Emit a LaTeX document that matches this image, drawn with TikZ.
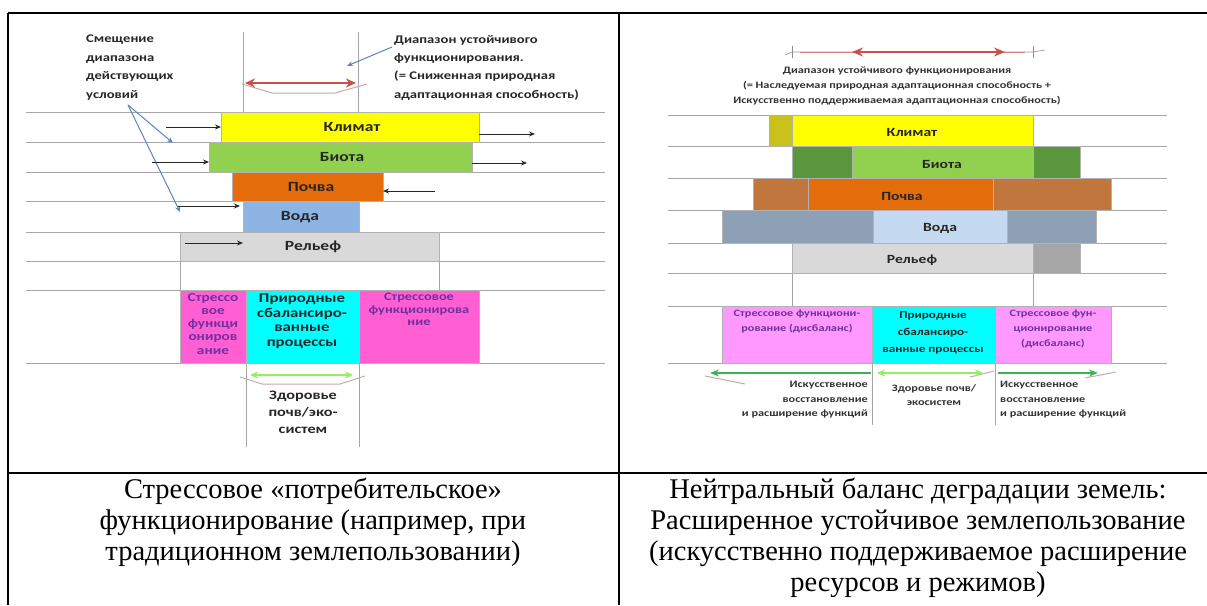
\documentclass[tikz,border=0pt]{standalone}
\usepackage{fontspec}
\setmainfont{Liberation Serif}
\newfontfamily\lab[FakeStretch=1.25]{Carlito}
\usetikzlibrary{arrows.meta}
\definecolor{cYel}{HTML}{FFFF00}
\definecolor{cGrn}{HTML}{92D050}
\definecolor{cOra}{HTML}{E46C0A}
\definecolor{cBlu}{HTML}{8EB4E3}
\definecolor{cGry}{HTML}{D9D9D9}
\definecolor{cMag}{HTML}{FF5FD2}
\definecolor{cCya}{HTML}{00FFFF}
\definecolor{cDYel}{HTML}{C9C21A}
\definecolor{cDGrn}{HTML}{5A963C}
\definecolor{cBrn}{HTML}{C0763C}
\definecolor{cGBlu}{HTML}{8EA0B6}
\definecolor{cLBlu}{HTML}{C5D9F1}
\definecolor{cDGry}{HTML}{A6A6A6}
\definecolor{cLMag}{HTML}{FF99FF}
\definecolor{cPur}{HTML}{7030A0}
\definecolor{cRed}{HTML}{C8504D}
\definecolor{cCall}{HTML}{5B84C4}
\definecolor{cLGrnA}{HTML}{90F060}
\definecolor{cDGrnA}{HTML}{3CB455}
\definecolor{cShad}{HTML}{C8A8A8}
\newcommand\mybox[6]{%
  \node[boxst,#6,minimum width={(#4-#2)*1pt},minimum height={(#5-#3)*1pt}] (#1) at ({(#2+#4)/2},{(#3+#5)/2}) {};}
\tikzset{
  boxst/.style={draw=black!30,line width=0.4pt,inner sep=0pt,outer sep=0pt,rectangle},
  rowline/.style={draw=black!35,line width=1pt},
  vline/.style={draw=black!35,line width=1pt},
  tabline/.style={draw=black,line width=1.5pt},
  lbl/.style={font=\lab\bfseries\fontsize{14}{15}\selectfont,text=black!85,inner sep=0pt},
  slbl/.style={font=\lab\bfseries\fontsize{12.5}{14}\selectfont,text=black!85,inner sep=0pt},
  note/.style={font=\lab\bfseries\fontsize{11.7}{18.4}\selectfont,text=black!85,inner sep=0pt,align=left},
  snote/.style={font=\lab\bfseries\fontsize{9.8}{14.7}\selectfont,text=black!80,inner sep=0pt,align=center},
  blk/.style={draw=black!85,line width=1pt,-{Stealth[length=6pt,width=5pt]}},
  call/.style={draw=cCall,line width=1pt,-{Stealth[length=6pt,width=5pt]}},
  shad/.style={draw=cShad,line width=1pt},
  captxt/.style={font=\fontsize{28.5}{31}\selectfont,align=center,inner sep=0pt}
}
\begin{document}
\begin{tikzpicture}[x=1pt,y=-1pt]
\useasboundingbox (0,0) rectangle (1207,605);
% ---------- table ----------
\draw[tabline] (8,13) -- (1207,13);
\draw[tabline] (8,473) -- (1207,473);
\draw[tabline] (8,13) -- (8,605);
\draw[tabline] (619,13) -- (619,605);
% ================= LEFT PANEL =================
\foreach \yy in {112,142,172,201,232,261,290,363}{\draw[rowline] (26,\yy) -- (605,\yy);}
\draw[vline] (243,32) -- (243,112);
\draw[vline] (358,32) -- (358,112);
\draw[vline] (180,261) -- (180,290);
\draw[vline] (439,232) -- (439,290);
\draw[vline] (246,363) -- (246,447);
\draw[vline] (359,363) -- (359,447);
\mybox{Lk}{221}{112}{479}{142}{fill=cYel}
\mybox{Lb}{209}{142}{472}{172}{fill=cGrn}
\mybox{Lp}{232}{172}{383}{201}{fill=cOra}
\mybox{Lv}{243}{201}{359}{232}{fill=cBlu}
\mybox{Lr}{180}{232}{439}{261}{fill=cGry}
\mybox{Ls1}{180}{290}{246}{363}{fill=cMag}
\mybox{Ln}{246}{290}{359}{363}{fill=cCya}
\mybox{Ls2}{359}{290}{479}{363}{fill=cMag}
\node[lbl] (tLk) at (352,127) {Климат};
\node[lbl] (tLb) at (342,157) {Биота};
\node[lbl] (tLp) at (311,187) {Почва};
\node[lbl] (tLv) at (300,217) {Вода};
\node[lbl] (tLr) at (313,247) {Рельеф};
\node[lbl,font=\lab\bfseries\fontsize{12.2}{13.2}\selectfont,text=cPur,align=center,anchor=north] (tLs1) at (213,293) {Стрессо\\вое\\функци\\ониров\\ание};
\node[lbl,font=\lab\bfseries\fontsize{13.4}{14.5}\selectfont,align=center,anchor=north] (tLn) at (302,294) {Природные\\сбалансиро-\\ванные\\процессы};
\node[lbl,font=\lab\bfseries\fontsize{11.5}{12.5}\selectfont,text=cPur,align=center,anchor=north] (tLs2) at (419,293) {Стрессовое\\функционирова\\ние};
\node[lbl,font=\lab\bfseries\fontsize{13}{17}\selectfont,align=center,anchor=north] (tLz) at (303,391) {Здоровье\\почв/эко-\\систем};
% notes
\node[note,anchor=north west] (shift) at (86,35) {Смещение\\диапазона\\действующих\\условий};
\node[note,anchor=north west] (range) at (394,35) {Диапазон устойчивого\\функционирования.\\(= Сниженная природная\\адаптационная способность)};
\coordinate (sh0) at (128,105);
\coordinate (sh1) at (173,143);
\coordinate (sh2) at (180,212);
\draw[call] (sh0) -- (sh1);
\draw[call] (sh0) -- (sh2);
\coordinate (rg0) at (392,47);
\coordinate (rg1) at (347,66);
\draw[call] (rg0) -- (rg1);
% black shift arrows
\coordinate (a1) at (166,127); \draw[blk] (a1) -- (Lk.west |- a1);
\coordinate (a2) at (535,134); \draw[blk] (Lk.east |- a2) -- (a2);
\coordinate (a3) at (152,162); \draw[blk] (a3) -- (Lb.west |- a3);
\coordinate (a4) at (527,163); \draw[blk] (Lb.east |- a4) -- (a4);
\coordinate (a5) at (435,191); \draw[blk] (a5) -- (Lp.east |- a5);
\coordinate (a6) at (178,206); \draw[blk] (a6) -- (240,206);
\coordinate (a7) at (185,243); \draw[blk] (a7) -- (243,243);
% red range arrow
\draw[shad] (242,84) -- (272,93) -- (335,93) -- (367,84);
\coordinate (rL) at (245,83); \coordinate (rR) at (356,83);
\draw[draw=cRed,line width=2.6pt,{Stealth[length=10pt,width=9pt]}-{Stealth[length=10pt,width=9pt]}] (rL) -- (rR);
% green health arrow
\draw[shad] (240,377) -- (262,384) -- (340,384) -- (365,376);
\coordinate (gL) at (250,375); \coordinate (gR) at (353,375);
\draw[draw=cLGrnA,line width=2.2pt,{Stealth[length=8pt,width=7pt]}-{Stealth[length=8pt,width=7pt]}] (gL) -- (gR);
% ================= RIGHT PANEL =================
\foreach \yy in {115,146,178,210,243,273,306,363}{\draw[rowline] (668,\yy) -- (1167,\yy);}
\draw[vline] (792,273) -- (792,306);
\draw[vline] (1033,273) -- (1033,306);
\draw[vline] (872,363) -- (872,425);
\draw[vline] (995,363) -- (995,425);
\mybox{Rk0}{769}{115}{792}{146}{fill=cDYel}
\mybox{Rk}{792}{115}{1033}{146}{fill=cYel}
\mybox{Rb0}{792}{146}{852}{178}{fill=cDGrn}
\mybox{Rb}{852}{146}{1033}{178}{fill=cGrn}
\mybox{Rb1}{1033}{146}{1080}{178}{fill=cDGrn}
\mybox{Rp0}{753}{178}{808}{210}{fill=cBrn}
\mybox{Rp}{808}{178}{993}{210}{fill=cOra}
\mybox{Rp1}{993}{178}{1111}{210}{fill=cBrn}
\mybox{Rv0}{722}{210}{873}{243}{fill=cGBlu}
\mybox{Rv}{873}{210}{1007}{243}{fill=cLBlu}
\mybox{Rv1}{1007}{210}{1096}{243}{fill=cGBlu}
\mybox{Rr}{792}{243}{1033}{273}{fill=cGry}
\mybox{Rr1}{1033}{243}{1080}{273}{fill=cDGry}
\mybox{Rs1}{722}{306}{872}{363}{fill=cLMag}
\mybox{Rn}{872}{306}{995}{363}{fill=cCya}
\mybox{Rs2}{995}{306}{1111}{363}{fill=cLMag}
\node[slbl] (tRk) at (912,132) {Климат};
\node[slbl] (tRb) at (942,164) {Биота};
\node[slbl] (tRp) at (902,196) {Почва};
\node[slbl] (tRv) at (940,228) {Вода};
\node[slbl] (tRr) at (912,260) {Рельеф};
\node[slbl,font=\lab\bfseries\fontsize{9.8}{15}\selectfont,text=cPur,align=center,anchor=north] (tRs1) at (797,310) {Стрессовое функциони-\\рование (дисбаланс)};
\node[slbl,font=\lab\bfseries\fontsize{10.5}{17}\selectfont,align=center,anchor=north] (tRn) at (933,311) {Природные\\сбалансиро-\\ванные процессы};
\node[slbl,font=\lab\bfseries\fontsize{9.8}{15}\selectfont,text=cPur,align=center,anchor=north] (tRs2) at (1053,310) {Стрессовое фун-\\ционирование\\(дисбаланс)};
\node[snote] (rnote) at (897,86) {Диапазон устойчивого функционирования\\(= Наследуемая природная адаптационная способность +\\Искусственно поддерживаемая адаптационная способность)};
\node[snote,align=right,anchor=north east] (artL) at (868,381) {Искусственное\\восстановление\\и расширение функций};
\node[snote,anchor=north] (hlth) at (934,384) {Здоровье почв/\\экосистем};
\node[snote,align=left,anchor=north west] (artR) at (1000,381) {Искусственное\\восстановление\\и расширение функций};
% red range arrow right
\coordinate (tk1) at (792,52); \coordinate (tk2) at (1033,52);
\draw[draw=black!40,line width=0.6pt] (785,55) -- (tk1) -- (tk2) -- (1045,50);
\draw[draw=black!45,line width=0.8pt] (792,46) -- (792,58);
\draw[draw=black!45,line width=0.8pt] (1033,46) -- (1033,58);
\draw[draw=cRed!70,line width=1pt] (800,52) -- (1025,52);
\coordinate (rR1) at (852,52); \coordinate (rR2) at (1005,52);
\draw[draw=cRed,line width=2.6pt,{Stealth[length=11pt,width=9pt]}-{Stealth[length=11pt,width=9pt]}] (rR1) -- (rR2);
% green arrows right
\coordinate (g1s) at (871,373); \coordinate (g1e) at (710,373);
\draw[shad] (705,376) -- (745,384);
\draw[draw=cDGrnA,line width=2.2pt,-{Stealth[length=9pt,width=7pt]}] (g1s) -- (g1e);
\coordinate (g2s) at (877,373); \coordinate (g2e) at (983,373);
\draw[shad] (970,377) -- (994,371);
\draw[draw=cLGrnA,line width=2.2pt,{Stealth[length=8pt,width=7pt]}-{Stealth[length=8pt,width=7pt]}] (g2s) -- (g2e);
\coordinate (g3s) at (998,373); \coordinate (g3e) at (1098,373);
\draw[shad] (1085,378) -- (1116,372);
\draw[draw=cDGrnA,line width=2.2pt,-{Stealth[length=9pt,width=7pt]}] (g3s) -- (g3e);
% ================= CAPTIONS =================
\node[captxt] (capL) at (313,522) {Стрессовое «потребительское»\\функционирование (например, при\\традиционном землепользовании)};
\node[captxt] (capR) at (918,538) {Нейтральный баланс деградации земель:\\Расширенное устойчивое землепользование\\(искусственно поддерживаемое расширение\\ресурсов и режимов)};
\end{tikzpicture}
\end{document}
